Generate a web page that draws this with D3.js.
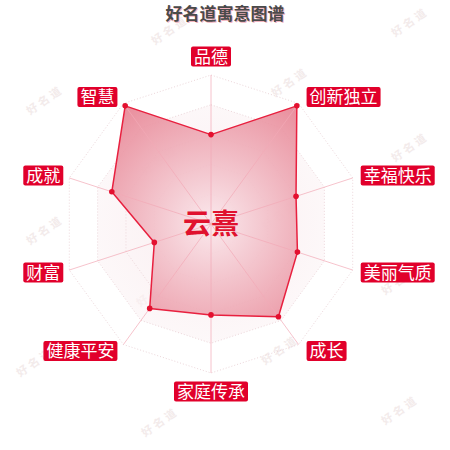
<!DOCTYPE html>
<html>
<head>
<meta charset="utf-8">
<script src="https://cdn.jsdelivr.net/npm/d3@7"></script>
<style>
  body { margin: 0; background: #fff; }
  svg { display: block; font-family: "Noto Sans CJK SC", "Noto Sans", sans-serif; }
</style>
</head>
<body>
<script>
var w = 450, h = 450;
var cx = 211, cy = 224, R = 149;

var titleText = "好名道寓意图谱";
var nameText = "云熹";
var indicators = ["品德", "创新独立", "幸福快乐", "美丽气质", "成长", "家庭传承", "健康平安", "财富", "成就", "智慧"];
var scores = [60, 98, 60, 61, 77, 61, 70, 40, 70, 98];
var maxScore = 100;
var ringLevels = [20, 40, 60, 80, 100];
var markText = "好名道";
var markSpots = [[45, 100], [45, 230], [35, 362], [170, 30], [160, 160], [155, 292], [160, 422],
                 [290, 82], [280, 215], [280, 350], [410, 22], [410, 147], [400, 280], [400, 410]];

var rScale = d3.scaleLinear().domain([0, maxScore]).range([0, R]);
var angle = d3.scaleLinear().domain([0, indicators.length]).range([0, 2 * Math.PI]);

function pt(i, v) {
	var a = angle(i);
	return [cx + rScale(v) * Math.sin(a), cy - rScale(v) * Math.cos(a)];
}

var svg = d3.select("body").append("svg")
		.attr("width", w)
		.attr("height", h);

var defs = svg.append("defs");
var grad = defs.append("radialGradient")
		.attr("id", "areaGrad")
		.attr("gradientUnits", "userSpaceOnUse")
		.attr("cx", cx).attr("cy", cy).attr("r", R);
grad.append("stop").attr("offset", "0").attr("stop-color", "#fbe9ed");
grad.append("stop").attr("offset", "0.3").attr("stop-color", "#f4c8d0");
grad.append("stop").attr("offset", "1").attr("stop-color", "#e67f8f");

var ringGrad = defs.append("radialGradient")
		.attr("id", "ringGrad")
		.attr("gradientUnits", "userSpaceOnUse")
		.attr("cx", cx).attr("cy", cy).attr("r", R);
ringGrad.append("stop").attr("offset", "0").attr("stop-color", "#f6e1e5");
ringGrad.append("stop").attr("offset", "1").attr("stop-color", "#fdf8f9");

// watermarks
svg.selectAll("text.mark")
	.data(markSpots)
	.enter().append("text")
	.attr("class", "mark")
	.attr("transform", function(d) { return "translate(" + d[0] + "," + d[1] + ") rotate(-35)"; })
	.attr("text-anchor", "middle")
	.attr("dy", "0.35em")
	.attr("font-size", 11)
	.attr("font-weight", "bold")
	.attr("letter-spacing", 3)
	.attr("fill", "#f3ebeb")
	.text(markText);

// title
svg.append("text")
	.attr("x", 226).attr("y", 21)
	.attr("text-anchor", "middle")
	.attr("font-size", 17)
	.attr("font-weight", "bold")
	.attr("fill", "#f2b3bf")
	.text(titleText);
svg.append("text")
	.attr("x", 225).attr("y", 20)
	.attr("text-anchor", "middle")
	.attr("font-size", 17)
	.attr("font-weight", "bold")
	.attr("fill", "#4a4a4a")
	.text(titleText);

// faint split area
var line = d3.line();
svg.append("path")
	.attr("d", line(indicators.map(function(d, i) { return pt(i, 80); })) + "Z")
	.attr("fill", "url(#ringGrad)")
	.attr("opacity", 0.6);

// rings
svg.selectAll("path.ring")
	.data(ringLevels)
	.enter().append("path")
	.attr("class", "ring")
	.attr("d", function(v) { return line(indicators.map(function(d, i) { return pt(i, v); })) + "Z"; })
	.attr("fill", "none")
	.attr("stroke", "#ecd6da")
	.attr("stroke-width", 1)
	.attr("stroke-dasharray", "1,2");

// data area
var pts = scores.map(function(v, i) { return pt(i, v); });
svg.append("path")
	.attr("d", line(pts) + "Z")
	.attr("fill", "url(#areaGrad)")
	.attr("fill-opacity", 0.9)
	.attr("stroke", "#e8203f")
	.attr("stroke-width", 1.5)
	.attr("stroke-linejoin", "round");

// axis lines
svg.selectAll("line.axis")
	.data(indicators)
	.enter().append("line")
	.attr("class", "axis")
	.attr("x1", cx).attr("y1", cy)
	.attr("x2", function(d, i) { return pt(i, maxScore)[0]; })
	.attr("y2", function(d, i) { return pt(i, maxScore)[1]; })
	.attr("stroke", "#f2a9b7")
	.attr("stroke-opacity", 0.7)
	.attr("stroke-width", 1);

// points
svg.selectAll("circle.dot")
	.data(pts)
	.enter().append("circle")
	.attr("class", "dot")
	.attr("cx", function(d) { return d[0]; })
	.attr("cy", function(d) { return d[1]; })
	.attr("r", 2.8)
	.attr("fill", "#e3102f");

// center name
svg.append("text")
	.attr("x", cx).attr("y", cy)
	.attr("text-anchor", "middle")
	.attr("dy", "0.36em")
	.attr("font-size", 28)
	.attr("font-weight", "bold")
	.attr("fill", "#e0112e")
	.text(nameText);

// indicator labels
var fs = 17, padX = 3, boxH = 20;
indicators.forEach(function(name, i) {
	var a = angle(i);
	var s = Math.sin(a), c = Math.cos(a);
	var end = pt(i, maxScore);
	var bw = name.length * fs + padX * 2;
	var x0, yc;
	if (Math.abs(s) < 0.01) {
		x0 = end[0] - bw / 2;
		yc = end[1] - c * 18.5;
	} else if (s > 0) {
		x0 = end[0] + 8;
		yc = end[1] - c * 8;
	} else {
		x0 = end[0] - 6 - bw;
		yc = end[1] - c * 8;
	}
	var g = svg.append("g").attr("transform", "translate(" + x0 + "," + (yc - boxH / 2) + ")");
	g.append("rect")
		.attr("width", bw).attr("height", boxH)
		.attr("rx", 2)
		.attr("fill", "#e1002b");
	g.append("text")
		.attr("x", bw / 2).attr("y", boxH / 2)
		.attr("dy", "0.36em")
		.attr("text-anchor", "middle")
		.attr("font-size", fs)
		.attr("fill", "#fff")
		.text(name);
});
</script>
</body>
</html>
